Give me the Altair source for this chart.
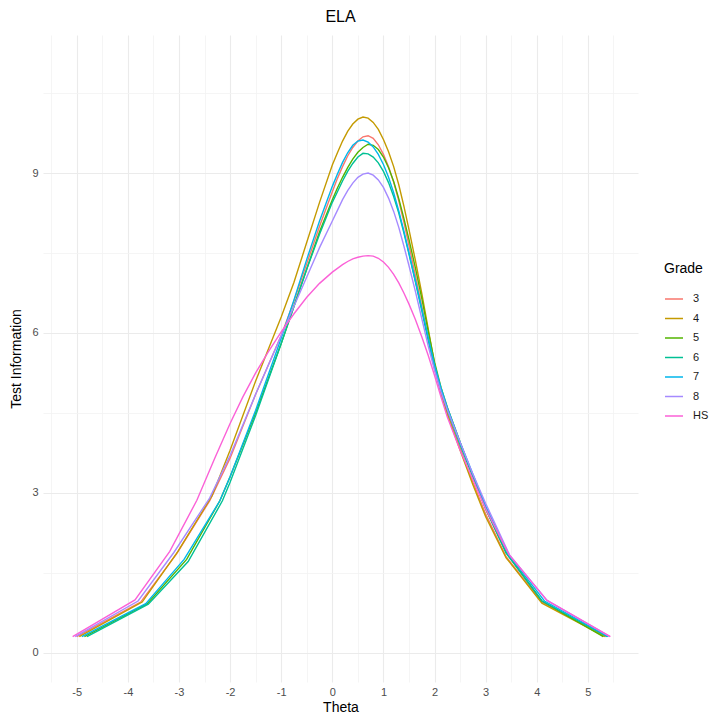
import altair as alt
import pandas as pd

# Test information curves for ELA, one series per grade
grades = ["3", "4", "5", "6", "7", "8", "HS"]
colors = ["#F8766D", "#C49A00", "#53B400", "#00C094", "#00B6EB", "#A58AFF", "#FB61D7"]

theta_3 = [-5.00, -3.75, -3.05, -2.40, -2.00, -1.50, -1.00, -0.75, -0.50, -0.25, 0.00, 0.10, 0.20, 0.30,
           0.40, 0.50, 0.60, 0.70, 0.80, 0.90, 1.00, 1.10, 1.20, 1.30, 1.40, 1.50, 1.625, 1.75, 1.875,
           2.00, 2.125, 2.25, 2.50, 2.75, 3.00, 3.40, 4.10, 5.35]
info_3 = [0.30, 0.95, 1.85, 2.85, 3.65, 4.85, 5.95, 6.60, 7.30, 8.00, 8.65, 8.90, 9.12, 9.32,
          9.48, 9.60, 9.68, 9.70, 9.65, 9.53, 9.35, 9.12, 8.83, 8.48, 8.08, 7.64, 7.08, 6.50, 5.90,
          5.32, 4.86, 4.48, 3.85, 3.20, 2.60, 1.80, 0.95, 0.30]

theta_4 = [-4.95, -3.72, -3.02, -2.35, -2.00, -1.50, -1.00, -0.75, -0.50, -0.25, 0.00, 0.10, 0.20, 0.30,
           0.40, 0.50, 0.60, 0.70, 0.80, 0.90, 1.00, 1.10, 1.20, 1.30, 1.40, 1.50, 1.625, 1.75, 1.875,
           2.00, 2.125, 2.25, 2.50, 2.75, 3.00, 3.40, 4.10, 5.33]
info_4 = [0.30, 0.95, 1.90, 2.95, 3.80, 5.10, 6.30, 6.95, 7.70, 8.45, 9.15, 9.38, 9.60, 9.78,
          9.92, 10.01, 10.05, 10.03, 9.95, 9.82, 9.63, 9.40, 9.12, 8.78, 8.38, 7.94, 7.36, 6.74, 6.08,
          5.42, 4.90, 4.48, 3.80, 3.15, 2.55, 1.78, 0.93, 0.30]

theta_5 = [-4.85, -3.62, -2.85, -2.20, -2.00, -1.50, -1.00, -0.75, -0.50, -0.25, 0.00, 0.10, 0.20, 0.30,
           0.40, 0.50, 0.60, 0.70, 0.80, 0.90, 1.00, 1.10, 1.20, 1.30, 1.40, 1.50, 1.625, 1.75, 1.875,
           2.00, 2.125, 2.25, 2.50, 2.75, 3.00, 3.40, 4.10, 5.30]
info_5 = [0.30, 0.92, 1.75, 2.85, 3.30, 4.50, 5.80, 6.50, 7.20, 7.90, 8.50, 8.72, 8.92, 9.10,
          9.26, 9.39, 9.48, 9.54, 9.52, 9.44, 9.30, 9.10, 8.84, 8.52, 8.15, 7.75, 7.22, 6.65, 6.04,
          5.45, 4.98, 4.60, 3.95, 3.30, 2.70, 1.88, 0.97, 0.30]

theta_6 = [-4.80, -3.60, -2.82, -2.15, -2.00, -1.50, -1.00, -0.75, -0.50, -0.25, 0.00, 0.10, 0.20, 0.30,
           0.40, 0.50, 0.60, 0.70, 0.80, 0.90, 1.00, 1.10, 1.20, 1.30, 1.40, 1.50, 1.625, 1.75, 1.875,
           2.00, 2.125, 2.25, 2.50, 2.75, 3.00, 3.40, 4.10, 5.38]
info_6 = [0.30, 0.91, 1.71, 2.85, 3.20, 4.45, 5.80, 6.50, 7.20, 7.85, 8.45, 8.65, 8.85, 9.03,
          9.18, 9.30, 9.37, 9.36, 9.30, 9.19, 9.03, 8.82, 8.56, 8.25, 7.88, 7.48, 6.96, 6.42, 5.86,
          5.35, 4.92, 4.55, 3.90, 3.30, 2.70, 1.87, 0.97, 0.30]

theta_7 = [-4.90, -3.65, -2.90, -2.20, -2.00, -1.50, -1.00, -0.75, -0.50, -0.25, 0.00, 0.10, 0.20, 0.30,
           0.40, 0.50, 0.60, 0.70, 0.80, 0.90, 1.00, 1.10, 1.20, 1.30, 1.40, 1.50, 1.625, 1.75, 1.875,
           2.00, 2.125, 2.25, 2.50, 2.75, 3.00, 3.44, 4.15, 5.40]
info_7 = [0.30, 0.92, 1.75, 2.85, 3.30, 4.55, 5.90, 6.62, 7.38, 8.10, 8.75, 8.98, 9.20, 9.38,
          9.52, 9.60, 9.62, 9.58, 9.49, 9.35, 9.16, 8.92, 8.63, 8.29, 7.91, 7.50, 6.98, 6.45, 5.92,
          5.40, 4.97, 4.60, 3.95, 3.35, 2.75, 1.85, 0.97, 0.30]

theta_8 = [-5.03, -3.80, -3.10, -2.40, -2.00, -1.50, -1.00, -0.75, -0.50, -0.25, 0.00, 0.10, 0.20, 0.30,
           0.40, 0.50, 0.60, 0.70, 0.80, 0.90, 1.00, 1.10, 1.20, 1.30, 1.40, 1.50, 1.625, 1.75, 1.875,
           2.00, 2.125, 2.25, 2.50, 2.75, 3.00, 3.47, 4.20, 5.43]
info_8 = [0.30, 0.97, 1.88, 2.90, 3.70, 4.85, 5.95, 6.50, 7.05, 7.60, 8.10, 8.30, 8.50, 8.67,
          8.81, 8.92, 8.98, 9.00, 8.96, 8.87, 8.73, 8.53, 8.28, 7.98, 7.63, 7.26, 6.78, 6.27, 5.76,
          5.30, 4.90, 4.56, 3.95, 3.35, 2.80, 1.83, 0.98, 0.30]

theta_hs = [-5.08, -3.86, -3.18, -2.65, -2.30, -2.00, -1.75, -1.50, -1.25, -1.00, -0.75, -0.50, -0.25,
            0.00, 0.10, 0.20, 0.30, 0.40, 0.50, 0.60, 0.70, 0.80, 0.90, 1.00, 1.10, 1.20, 1.30, 1.40,
            1.50, 1.625, 1.75, 1.875, 2.00, 2.125, 2.25, 2.50, 2.75, 3.00, 3.45, 4.20, 5.44]
info_hs = [0.30, 0.99, 1.90, 2.86, 3.65, 4.30, 4.80, 5.25, 5.65, 6.02, 6.36, 6.67, 6.93,
           7.14, 7.21, 7.28, 7.34, 7.39, 7.42, 7.44, 7.45, 7.44, 7.40, 7.33, 7.23, 7.10, 6.94, 6.75,
           6.54, 6.25, 5.93, 5.58, 5.20, 4.80, 4.42, 3.80, 3.25, 2.70, 1.85, 0.98, 0.30]

series = {
    "3": (theta_3, info_3),
    "4": (theta_4, info_4),
    "5": (theta_5, info_5),
    "6": (theta_6, info_6),
    "7": (theta_7, info_7),
    "8": (theta_8, info_8),
    "HS": (theta_hs, info_hs),
}

rows = []
for g in grades:
    th, inf = series[g]
    for i, (t, v) in enumerate(zip(th, inf)):
        rows.append({"Grade": g, "Theta": t, "Info": v, "order": i})
df = pd.DataFrame(rows)

# Major breaks every unit (x) / 3 units (y), minor breaks half-way between
x_breaks = [-5.5, -5, -4.5, -4, -3.5, -3, -2.5, -2, -1.5, -1, -0.5, 0, 0.5, 1, 1.5,
            2, 2.5, 3, 3.5, 4, 4.5, 5, 5.5]
y_breaks = [0, 1.5, 3, 4.5, 6, 7.5, 9, 10.5]

font = "Liberation Sans"

x_axis = alt.Axis(
    values=x_breaks,
    labelExpr="datum.value % 1 === 0 ? toString(datum.value) : ''",
    title="Theta",
    domain=False,
    ticks=False,
    grid=True,
    gridColor={"condition": {"test": "datum.value % 1 === 0", "value": "#EBEBEB"}, "value": "#F3F3F3"},
    gridWidth={"condition": {"test": "datum.value % 1 === 0", "value": 1.1}, "value": 0.8},
    labelFont=font, labelFontSize=11, labelColor="#4D4D4D", labelPadding=4,
    titleFont=font, titleFontSize=14, titleFontWeight="normal", titleColor="#000000", titlePadding=3,
)
y_axis = alt.Axis(
    values=y_breaks,
    labelExpr="datum.value % 3 === 0 ? toString(datum.value) : ''",
    title="Test Information",
    domain=False,
    ticks=False,
    grid=True,
    gridColor={"condition": {"test": "datum.value % 3 === 0", "value": "#EBEBEB"}, "value": "#F3F3F3"},
    gridWidth={"condition": {"test": "datum.value % 3 === 0", "value": 1.1}, "value": 0.8},
    labelFont=font, labelFontSize=11, labelColor="#4D4D4D", labelPadding=5,
    titleFont=font, titleFontSize=14, titleFontWeight="normal", titleColor="#000000", titlePadding=8,
)

chart = alt.Chart(df).mark_line(strokeWidth=1.4).encode(
    x=alt.X("Theta:Q", scale=alt.Scale(domain=[-5.66, 5.98], nice=False, zero=False), axis=x_axis),
    y=alt.Y("Info:Q", scale=alt.Scale(domain=[-0.55, 11.59], nice=False, zero=False), axis=y_axis),
    color=alt.Color(
        "Grade:N",
        scale=alt.Scale(domain=grades, range=colors),
        legend=alt.Legend(
            title="Grade", orient="none", legendX=621, legendY=227,
            symbolType="stroke", symbolSize=324, symbolStrokeWidth=1.5,
            titleFont=font, titleFontSize=14, titleFontWeight="normal", titleColor="#000000",
            titlePadding=13,
            labelFont=font, labelFontSize=11, labelColor="#1A1A1A", labelOffset=9,
            rowPadding=4.5,
        ),
    ),
    detail="Grade:N",
    order="order:Q",
).properties(
    width=595,
    height=647,
    title=alt.TitleParams("ELA", font=font, fontSize=16, fontWeight="normal",
                          color="#000000", anchor="middle", offset=10),
    padding={"left": 43, "top": 35, "right": 75, "bottom": 39},
    autosize=alt.AutoSizeParams(type="none"),
    background="#FFFFFF",
).configure_view(stroke=None)

chart.save("out.html", embed_options={"renderer": "svg", "actions": False})
